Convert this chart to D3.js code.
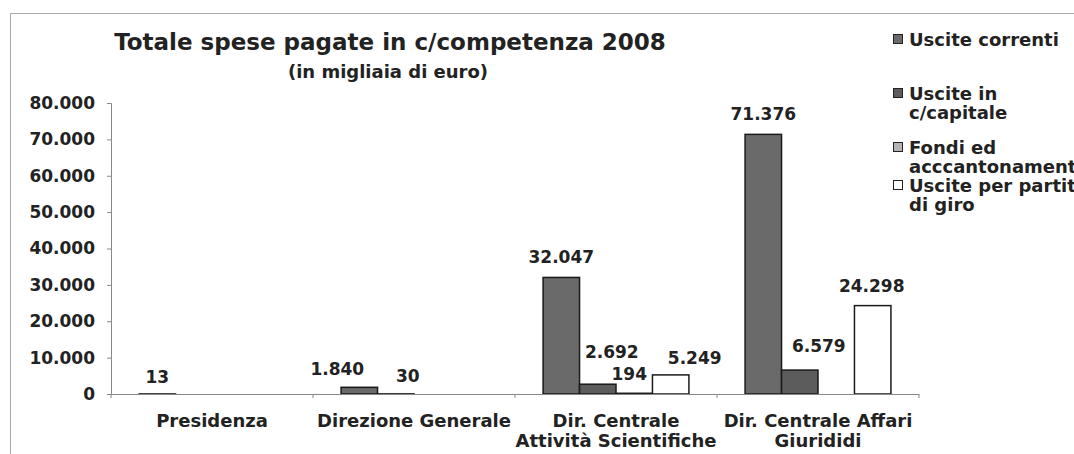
<!DOCTYPE html>
<html>
<head>
<meta charset="utf-8">
<script src="https://cdn.jsdelivr.net/npm/d3@7"></script>
<style>
  body { margin: 0; background: #fff; overflow: hidden; }
  text { font-family: "DejaVu Sans", Verdana, sans-serif; font-weight: bold; fill: #222; }
</style>
</head>
<body>
<div id="chart"></div>
<script>
// categories and series
var categories = ["Presidenza", "Direzione Generale", "Dir. Centrale Attività Scientifiche", "Dir. Centrale Affari Giurididi"];
var categoryLines = [["Presidenza"], ["Direzione Generale"], ["Dir. Centrale", "Attività Scientifiche"], ["Dir. Centrale Affari", "Giurididi"]];
var seriesNames = ["Uscite correnti", "Uscite in c/capitale", "Fondi ed acccantonamenti", "Uscite per partite di giro"];
var legendLines = [["Uscite correnti"], ["Uscite in", "c/capitale"], ["Fondi ed", "acccantonamenti"], ["Uscite per partite", "di giro"]];

// values (migliaia di euro), null = no bar
var usciteCorrenti = [13, 1840, 32047, 71376];
var usciteCapitale = [null, 30, 2692, 6579];
var fondiAccantonamenti = [null, null, 194, null];
var usciteGiro = [null, null, 5249, 24298];

var yTicks = [0, 10000, 20000, 30000, 40000, 50000, 60000, 70000, 80000];

// manual label nudges as in the original (dx, dy)
var labelNudge = [
    [[0, 3], [0, 0], [0, 0], [0, 0]],
    [[-22, 2], [12, 2], [0, 0], [0, 0]],
    [[0, 0], [14, -12], [-5, 1], [24, 3]],
    [[0, 0], [19, -4], [0, 0], [-1, 0]]
];

var seriesValues = [usciteCorrenti, usciteCapitale, fondiAccantonamenti, usciteGiro];
var colors = ["#6a6a6a", "#5c5c5c", "#b4b4b4", "#ffffff"];

var W = 1074, H = 454;
var plotLeft = 111, plotRight = 919, plotTop = 103, plotBottom = 394;

var it = d3.formatLocale({decimal: ",", thousands: ".", grouping: [3], currency: ["€", ""]});
var fmt = it.format(",d");

var svg = d3.select("#chart").append("svg")
    .attr("width", W)
    .attr("height", H);

// frame of the chart area
svg.append("path")
    .attr("d", "M10.5," + (H + 2) + "V13.5H" + (W + 2))
    .attr("fill", "none")
    .attr("stroke", "#aaa")
    .attr("stroke-width", 1);

var x = d3.scaleBand().domain(categories).range([plotLeft, plotRight]);
var xs = d3.scaleBand().domain(d3.range(4)).range([0, x.bandwidth()]).paddingOuter(0.77);
var y = d3.scaleLinear().domain([0, 80000]).range([plotBottom, plotTop]);

// y axis
var yAxis = svg.append("g")
    .attr("transform", "translate(" + plotLeft + ",0)")
    .call(d3.axisLeft(y).tickValues(yTicks).tickFormat(fmt).tickSize(4).tickPadding(12));
yAxis.select(".domain").attr("stroke", "#888");
yAxis.selectAll(".tick line").attr("stroke", "#888");
yAxis.selectAll(".tick text").style("font-size", "17px").attr("fill", "#222");

// bars
var bars = [];
categories.forEach(function(c, ci) {
    seriesValues.forEach(function(vals, si) {
        if (vals[ci] !== null) bars.push({c: c, ci: ci, si: si, v: vals[ci]});
    });
});

svg.selectAll("rect.bar")
    .data(bars)
    .enter().append("rect")
    .attr("class", "bar")
    .attr("x", d => x(d.c) + xs(d.si))
    .attr("width", xs.bandwidth())
    .attr("y", d => y(d.v))
    .attr("height", d => plotBottom - y(d.v))
    .attr("fill", d => colors[d.si])
    .attr("stroke", "#1a1a1a")
    .attr("stroke-width", 1.5);

// x axis line and category ticks
svg.append("line")
    .attr("x1", plotLeft - 4).attr("x2", plotRight)
    .attr("y1", plotBottom + 0.5).attr("y2", plotBottom + 0.5)
    .attr("stroke", "#888");
svg.append("g").selectAll("line")
    .data(d3.range(categories.length + 1))
    .enter().append("line")
    .attr("x1", i => plotLeft + i * x.step())
    .attr("x2", i => plotLeft + i * x.step())
    .attr("y1", plotBottom)
    .attr("y2", plotBottom + 4)
    .attr("stroke", "#888");

// category labels
var catG = svg.append("g").selectAll("text")
    .data(categories)
    .enter().append("text")
    .attr("x", d => x(d) + x.bandwidth() / 2)
    .attr("y", 427)
    .attr("text-anchor", "middle")
    .style("font-size", "18px");
catG.selectAll("tspan")
    .data((d, i) => categoryLines[i])
    .enter().append("tspan")
    .attr("x", function() { return this.parentNode.getAttribute("x"); })
    .attr("dy", (d, i) => i === 0 ? 0 : 20)
    .text(d => d);

// value labels
svg.append("g").selectAll("text")
    .data(bars)
    .enter().append("text")
    .attr("x", d => x(d.c) + xs(d.si) + xs.bandwidth() / 2 + labelNudge[d.ci][d.si][0])
    .attr("y", d => y(d.v) - 14 + labelNudge[d.ci][d.si][1])
    .attr("text-anchor", "middle")
    .style("font-size", "17px")
    .text(d => fmt(d.v));

// title
svg.append("text")
    .attr("x", 390)
    .attr("y", 50)
    .attr("text-anchor", "middle")
    .style("font-size", "23px")
    .text("Totale spese pagate in c/competenza 2008");
svg.append("text")
    .attr("x", 388)
    .attr("y", 78)
    .attr("text-anchor", "middle")
    .style("font-size", "18px")
    .text("(in migliaia di euro)");

// legend
var legendY = [40, 94, 148, 186];
var lg = svg.append("g").selectAll("g")
    .data(seriesNames)
    .enter().append("g")
    .attr("transform", (d, i) => "translate(893," + legendY[i] + ")");
lg.append("rect")
    .attr("x", 0.5)
    .attr("y", -5.5)
    .attr("width", 9)
    .attr("height", 9)
    .attr("fill", (d, i) => colors[i])
    .attr("stroke", "#222");
var lt = lg.append("text")
    .attr("x", 16)
    .attr("y", 6)
    .style("font-size", "18px");
lt.selectAll("tspan")
    .data((d, i) => legendLines[i])
    .enter().append("tspan")
    .attr("x", 16)
    .attr("dy", (d, i) => i === 0 ? 0 : 19)
    .text(d => d);
</script>
</body>
</html>
